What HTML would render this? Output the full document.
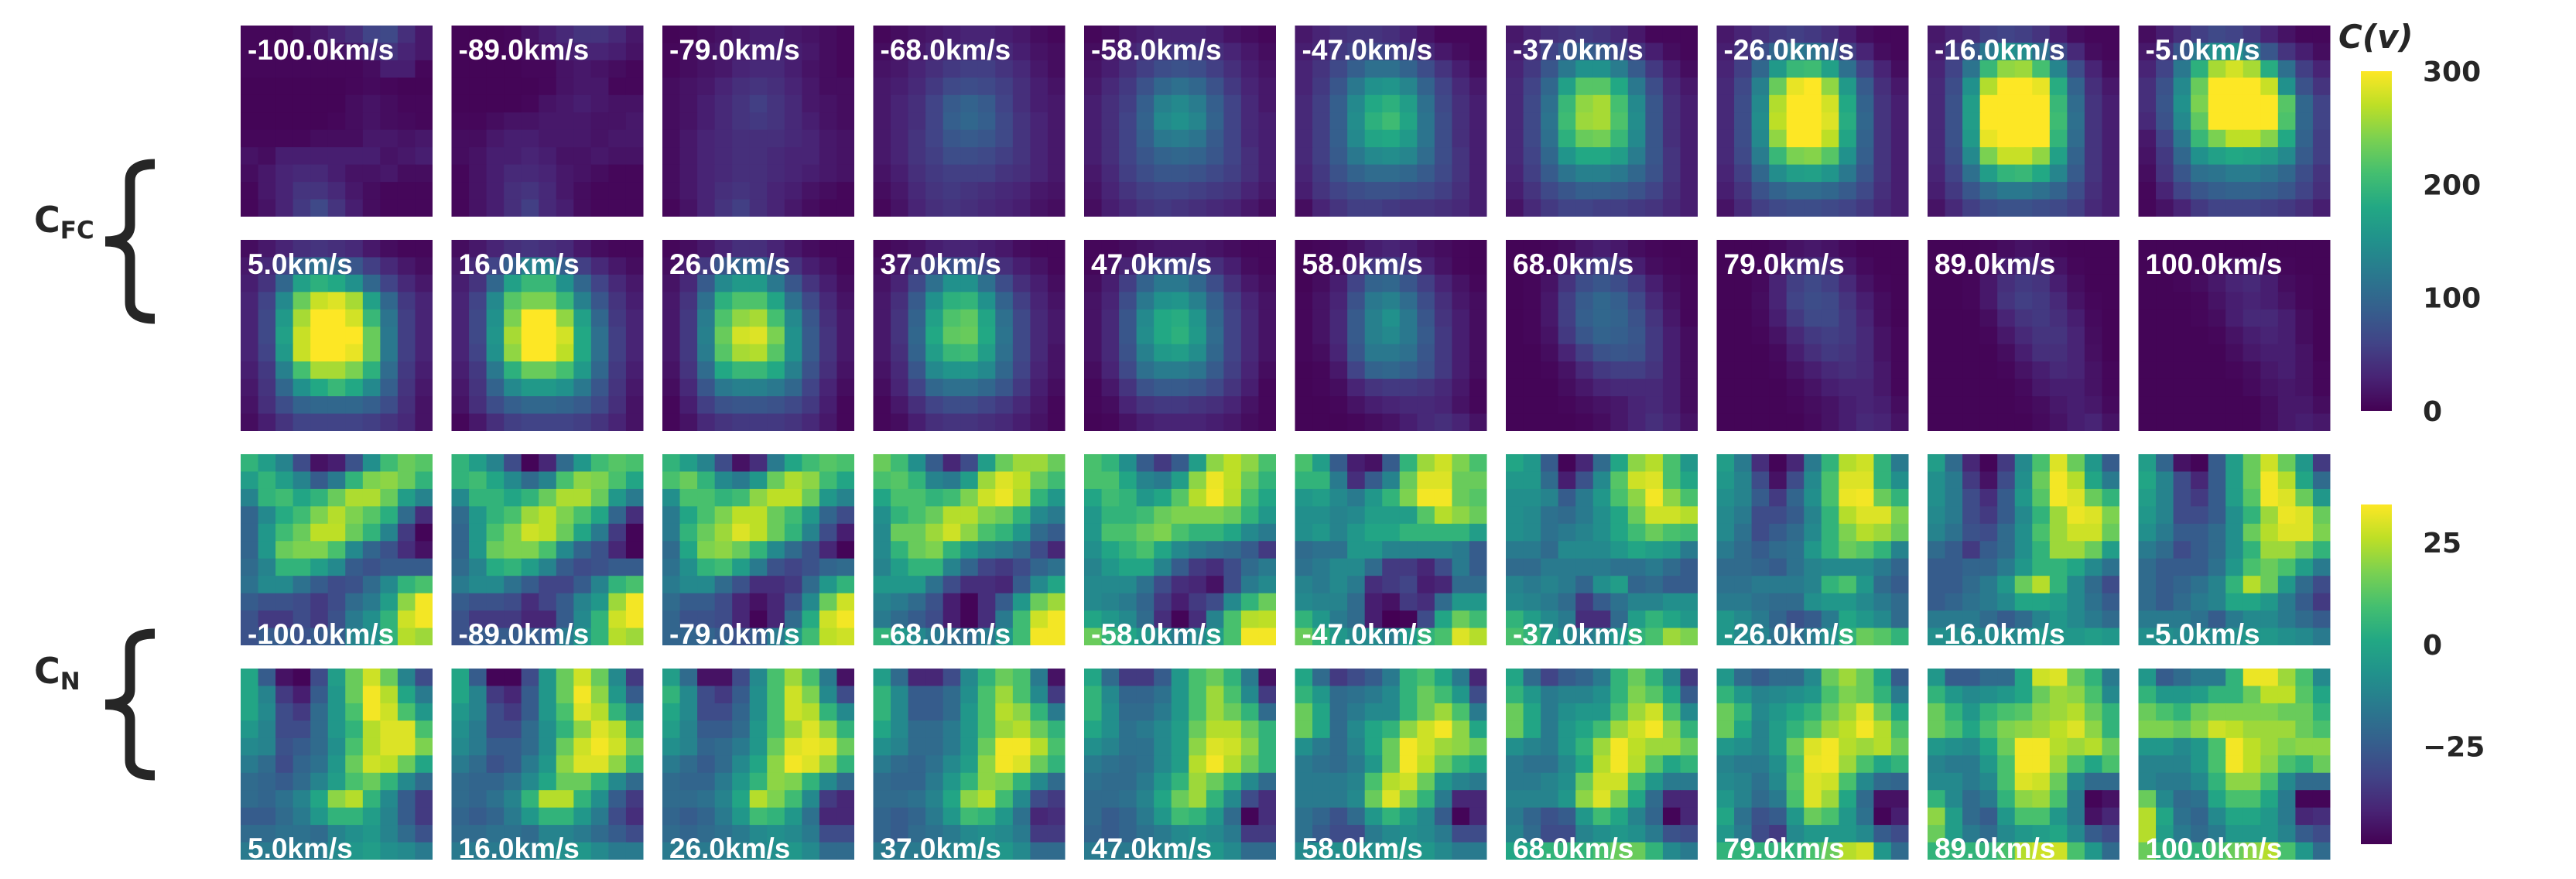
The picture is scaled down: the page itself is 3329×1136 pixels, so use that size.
<!DOCTYPE html>
<html><head><meta charset="utf-8"><style>
html,body{margin:0;padding:0;background:#fff;}
svg{display:block;}
</style></head><body>
<svg id="chart" width="3329" height="1136" viewBox="0 0 3329 1136" xmlns="http://www.w3.org/2000/svg">
<defs>
<linearGradient id="vir" x1="0" y1="1" x2="0" y2="0">
<stop offset="0" stop-color="#440154"/><stop offset="0.1" stop-color="#482475"/><stop offset="0.2" stop-color="#414487"/><stop offset="0.3" stop-color="#355f8d"/><stop offset="0.4" stop-color="#2a788e"/><stop offset="0.5" stop-color="#21918c"/><stop offset="0.6" stop-color="#22a884"/><stop offset="0.7" stop-color="#44bf70"/><stop offset="0.8" stop-color="#7ad151"/><stop offset="0.9" stop-color="#bddf26"/><stop offset="1" stop-color="#fde725"/>
</linearGradient>
</defs>
<g id="panels"></g>
<g id="side">
<text x="44" y="300" font-family="DejaVu Sans, sans-serif" font-weight="bold" font-size="46" fill="#262626">C<tspan font-size="31" dy="8">FC</tspan></text>
<text x="44" y="883" font-family="DejaVu Sans, sans-serif" font-weight="bold" font-size="46" fill="#262626">C<tspan font-size="31" dy="8">N</tspan></text>
</g>
<text x="3022" y="62" font-family="DejaVu Sans, sans-serif" font-weight="bold" font-style="italic" font-size="42" fill="#262626">C(v)</text>
<rect x="3051" y="92" width="40" height="439" fill="url(#vir)"/>
<rect x="3051" y="652" width="40" height="439" fill="url(#vir)"/>
<g id="cbticks"></g>
</svg>
<script>
const velocities = ["-100.0","-89.0","-79.0","-68.0","-58.0","-47.0","-37.0","-26.0","-16.0","-5.0","5.0","16.0","26.0","37.0","47.0","58.0","68.0","79.0","89.0","100.0"];
const fcTicks = [0,100,200,300];
const nTicks = [-25,0,25];
const fcRange = [0,300];
const nRange = [-49,34.3];
const fcGrids = [
[[5,5,5,10,20,30,40,60,65,40,20],[5,5,5,5,10,15,20,35,45,30,20],[5,5,5,5,5,5,5,10,25,25,5],[3,3,3,3,3,3,5,8,5,3,3],[3,3,3,3,3,3,10,15,10,5,5],[3,3,3,3,3,5,10,15,10,8,5],[5,5,5,5,10,10,10,20,20,15,20],[15,10,25,25,25,25,25,25,15,20,25],[10,20,30,35,35,25,15,15,20,10,10],[5,20,30,45,45,35,20,10,5,5,5],[5,15,30,50,65,45,25,10,5,5,5]],
[[3,3,3,5,15,25,35,45,45,35,20],[3,3,3,5,10,15,25,30,30,25,15],[3,3,3,3,5,5,15,20,15,10,5],[3,3,3,3,3,5,15,20,20,5,5],[3,3,3,3,5,15,20,25,20,15,15],[5,5,10,15,15,20,20,20,15,15,20],[10,10,20,25,25,20,20,20,15,20,20],[10,15,25,25,30,25,15,15,20,15,15],[5,15,25,35,35,30,20,15,10,5,5],[5,15,25,40,45,35,20,10,5,5,5],[5,15,25,40,55,35,25,10,5,5,5]],
[[3,5,10,15,20,25,25,20,15,10,5],[5,10,15,20,25,30,30,25,20,10,5],[5,10,15,20,30,35,35,25,15,10,5],[10,15,20,30,40,45,40,30,20,10,10],[10,15,25,35,45,55,45,35,20,15,10],[10,15,25,35,45,50,45,35,25,15,10],[10,20,30,35,40,40,40,35,30,20,15],[10,20,30,35,40,40,35,30,30,20,15],[10,20,30,35,40,40,35,30,25,20,15],[10,20,30,40,45,40,30,25,15,10,5],[5,15,30,45,55,40,30,20,10,5,5]],
[[5,10,15,20,25,30,30,25,20,10,5],[10,15,20,30,35,40,40,35,25,15,10],[15,20,30,40,50,55,55,45,35,20,10],[20,25,35,50,65,70,65,55,40,25,15],[20,30,40,60,85,95,85,60,40,25,20],[20,30,40,60,90,100,90,65,45,30,20],[20,30,45,60,80,85,80,65,45,30,20],[20,30,45,55,70,70,65,55,45,30,20],[15,25,40,50,55,55,55,45,40,30,20],[10,20,35,45,50,45,40,35,30,20,15],[5,15,30,40,45,40,35,30,25,15,10]],
[[5,10,20,25,30,30,30,25,15,10,5],[10,20,30,40,45,50,45,40,30,20,10],[15,25,40,55,70,75,70,55,40,25,15],[20,35,50,75,100,110,100,75,50,30,20],[25,40,55,90,130,140,125,90,60,35,20],[25,40,60,95,140,150,135,95,60,35,25],[25,40,60,90,120,125,115,85,60,35,25],[25,40,60,80,95,100,95,80,60,40,25],[20,35,55,70,80,80,75,65,55,40,25],[15,30,45,55,60,60,55,50,45,30,20],[10,25,35,45,50,45,40,35,30,20,10]],
[[20,30,40,45,45,40,30,15,5,5,5],[25,35,50,60,65,60,50,35,20,10,5],[30,45,65,90,110,110,95,70,45,25,10],[30,50,80,120,150,155,135,95,60,35,20],[35,55,90,140,180,190,165,110,65,40,25],[35,55,90,145,190,205,175,115,70,40,25],[35,55,90,140,175,180,160,115,70,40,25],[35,55,85,120,140,145,135,105,70,45,25],[30,50,75,95,105,105,100,85,65,45,25],[25,45,60,70,75,75,70,65,55,40,25],[10,30,45,55,55,50,45,45,40,35,25]],
[[20,30,40,45,50,45,35,20,5,5,5],[25,40,60,80,90,85,65,45,25,10,5],[30,50,80,120,150,150,125,85,50,25,10],[35,60,100,170,220,220,180,120,70,35,20],[35,65,110,200,250,260,210,140,80,40,25],[35,65,115,205,255,260,215,145,80,40,25],[35,65,110,190,230,235,200,140,80,40,25],[35,60,100,155,180,180,165,125,80,45,25],[30,55,85,115,130,130,120,100,75,45,25],[25,45,65,80,90,90,85,75,60,40,25],[15,35,50,60,60,55,55,50,45,35,25]],
[[20,30,40,50,55,50,40,25,10,5,5],[25,45,70,100,120,115,90,55,30,10,5],[30,55,100,160,200,205,170,110,60,30,10],[35,65,130,230,290,300,250,160,85,40,20],[35,70,140,265,310,320,280,180,95,45,25],[35,70,145,270,315,320,285,185,100,45,25],[35,70,140,250,300,305,270,175,95,45,25],[35,65,125,200,240,245,220,150,90,45,25],[30,55,100,145,165,170,155,120,80,45,25],[25,45,75,95,105,105,100,85,65,40,25],[15,35,55,65,70,70,65,60,50,35,25]],
[[20,30,40,55,60,55,45,25,10,5,5],[25,50,80,120,150,145,110,65,35,10,5],[30,60,115,200,250,255,210,135,70,30,10],[35,70,150,265,320,320,290,185,95,40,20],[35,75,165,300,330,330,310,200,105,45,25],[35,75,165,305,330,330,310,205,110,45,25],[35,75,160,290,320,320,300,195,105,45,25],[35,70,140,240,275,275,250,170,95,45,25],[30,60,110,165,195,200,180,135,85,45,25],[25,50,80,105,120,120,110,95,70,40,25],[15,35,55,70,75,75,70,65,55,35,25]],
[[10,25,40,55,65,60,50,30,15,5,5],[20,45,80,120,150,150,120,80,45,25,10],[30,60,120,190,260,280,260,185,110,55,30],[40,75,140,230,330,330,330,275,150,75,45],[40,80,150,240,330,330,330,330,220,100,60],[35,75,140,225,330,330,330,330,215,100,60],[20,60,120,200,240,270,270,245,180,95,55],[15,50,100,150,170,180,175,165,140,85,55],[10,45,80,110,115,125,125,115,100,70,45],[5,30,60,80,90,95,95,90,80,60,40],[5,15,30,50,60,60,60,55,50,40,25]],
[[10,20,30,40,45,40,35,20,10,5,5],[20,35,60,90,110,100,80,55,35,20,10],[25,45,100,170,190,180,150,100,60,35,20],[30,60,140,230,275,285,260,170,100,50,30],[30,65,160,260,320,320,280,200,115,55,30],[30,65,170,275,330,330,330,230,120,55,30],[30,60,160,275,330,330,290,230,120,55,30],[25,50,130,210,260,260,240,190,105,50,25],[20,45,100,150,180,200,180,140,90,45,20],[15,40,70,95,100,100,100,90,70,40,15],[10,25,45,60,60,60,60,55,45,35,15]],
[[10,20,30,40,45,40,35,20,10,5,5],[20,35,60,90,130,130,90,55,35,20,10],[25,45,100,170,200,200,150,100,60,35,20],[30,60,140,220,240,240,200,130,80,45,25],[30,65,150,240,310,310,250,170,100,50,30],[30,65,155,260,320,320,280,180,110,55,30],[30,60,150,250,320,320,270,180,110,55,30],[25,50,120,190,230,230,210,160,100,50,25],[20,45,95,140,160,160,150,120,80,45,20],[15,40,70,90,100,100,95,85,65,40,15],[5,20,40,55,60,60,60,55,45,30,15]],
[[5,10,20,30,40,40,30,20,10,5,5],[10,25,50,80,95,95,70,45,25,15,5],[15,35,85,140,160,160,120,80,45,25,10],[20,45,110,190,215,215,175,110,65,35,15],[20,50,125,215,250,260,210,140,80,40,20],[20,50,130,230,280,285,240,150,85,45,20],[20,50,125,220,260,265,220,150,85,45,20],[15,45,105,180,200,200,180,130,75,40,15],[10,35,80,120,130,130,120,100,60,30,10],[5,25,55,75,80,80,75,65,50,25,5],[5,15,35,45,50,50,50,45,35,20,5]],
[[5,10,15,25,30,30,25,20,10,5,5],[10,20,40,60,75,75,60,40,25,15,5],[15,30,65,110,150,150,110,70,40,25,10],[20,40,85,150,190,195,150,95,55,30,15],[20,45,95,170,215,225,175,110,65,35,20],[20,45,100,180,225,230,180,115,65,35,20],[20,40,95,165,200,205,165,110,65,35,15],[15,35,80,140,155,155,140,100,60,30,15],[10,30,60,100,110,110,100,80,50,25,10],[5,20,40,60,70,70,60,50,35,20,5],[5,10,25,40,45,45,40,35,25,15,5]],
[[5,5,10,15,20,20,20,15,10,5,5],[5,15,30,50,60,60,55,40,25,10,5],[10,25,55,95,120,120,100,70,40,20,10],[15,30,70,120,150,155,130,90,55,30,15],[15,35,80,140,180,185,155,100,60,35,15],[15,35,80,145,180,190,160,105,60,35,15],[15,35,75,130,160,165,145,100,60,35,15],[10,30,65,110,125,125,115,85,55,30,10],[5,20,45,75,85,85,80,65,45,25,5],[5,10,30,45,50,50,45,40,30,15,5],[3,5,15,25,30,30,30,25,20,10,5]],
[[3,5,8,15,25,30,25,15,10,5,3],[3,5,10,30,50,55,45,30,15,5,3],[3,10,25,60,95,100,80,55,30,15,5],[5,15,30,75,120,130,105,70,40,20,10],[5,15,35,85,130,150,120,80,45,25,10],[5,15,35,85,130,140,120,85,50,25,10],[5,10,30,80,120,120,110,80,50,25,10],[3,5,20,60,95,100,90,75,50,25,10],[3,5,10,30,45,50,50,45,35,20,5],[3,3,5,15,25,30,35,35,30,15,5],[3,3,3,5,10,15,25,35,40,30,15]],
[[3,3,5,10,20,25,20,10,5,3,3],[3,3,8,25,45,55,45,25,10,5,3],[3,5,15,45,70,80,70,50,25,10,5],[3,5,20,55,85,100,90,65,35,15,5],[3,5,20,55,90,100,95,75,45,20,5],[3,5,15,50,80,95,90,80,50,25,10],[3,3,10,30,55,75,80,75,50,25,10],[3,3,5,15,35,50,55,55,45,25,10],[3,3,3,10,20,30,35,35,35,25,10],[3,3,3,5,10,15,20,30,35,25,10],[3,3,3,3,5,10,20,30,40,30,15]],
[[3,3,3,8,15,20,15,8,3,3,3],[3,3,5,15,35,40,35,20,8,3,3],[3,3,8,30,55,65,55,35,15,5,3],[3,3,10,30,60,70,65,45,25,10,3],[3,3,8,25,50,65,65,50,30,10,3],[3,3,5,15,35,50,55,50,35,15,5],[3,3,3,8,25,40,50,45,35,15,5],[3,3,3,5,15,25,35,40,35,20,5],[3,3,3,3,8,15,25,30,30,20,5],[3,3,3,3,5,10,15,25,30,25,10],[3,3,3,3,3,8,15,25,35,30,15]],
[[3,3,3,5,10,15,12,5,3,3,3],[3,3,3,10,25,35,30,15,5,3,3],[3,3,5,20,40,50,45,25,10,3,3],[3,3,5,20,45,55,50,35,15,5,3],[3,3,3,10,30,45,50,40,25,8,3],[3,3,3,5,20,35,45,45,30,10,3],[3,3,3,3,10,25,40,40,30,12,3],[3,3,3,3,5,15,25,35,30,15,5],[3,3,3,3,3,8,20,25,25,15,5],[3,3,3,3,3,5,10,20,25,20,8],[3,3,3,3,3,3,8,15,25,30,15]],
[[3,3,3,3,3,3,3,3,3,3,3],[3,3,3,5,10,15,15,10,5,3,3],[3,3,5,10,20,30,35,25,10,5,3],[3,3,3,5,15,25,30,25,15,5,3],[3,3,3,5,10,25,35,35,25,10,3],[3,3,3,3,5,15,25,30,25,10,3],[3,3,3,3,3,10,20,25,25,15,3],[3,3,3,3,3,5,10,20,25,15,5],[3,3,3,3,3,3,8,15,20,15,5],[3,3,3,3,3,3,3,10,20,20,10],[3,3,3,3,3,3,3,10,20,25,20]]
];
const nGrids = [
[[5,-3,-12,-30,-45,-42,-28,-8,8,15,12],[-3,5,-3,-12,-25,-15,5,18,20,15,5],[-12,5,8,0,5,15,24,24,15,-3,-12],[-22,-10,2,8,18,25,18,12,3,-20,-38],[-22,-5,8,15,26,26,15,5,-12,-35,-48],[-22,-5,15,18,18,10,-10,-22,-28,-38,-45],[-20,-12,5,5,-3,-10,-25,-28,-25,-25,-25],[-18,-10,-10,-18,-25,-30,-28,-20,-10,5,10],[-25,-28,-28,-30,-35,-30,-20,-15,-3,20,33],[-28,-35,-35,-30,-35,-28,-15,-8,5,28,33],[-28,-25,-25,-28,-25,-25,-12,-8,5,25,22]],
[[5,-3,-12,-30,-48,-40,-20,-5,8,12,10],[5,8,0,-10,-20,-12,10,20,18,10,0],[-10,5,5,0,5,15,24,24,15,-5,-15],[-20,-5,5,10,22,26,18,10,0,-22,-38],[-22,-5,10,18,28,26,15,0,-15,-35,-48],[-22,-5,15,18,18,10,-10,-22,-28,-40,-48],[-20,-12,2,5,-3,-12,-25,-30,-28,-25,-25],[-15,-10,-10,-18,-25,-32,-32,-25,-12,5,10],[-25,-28,-28,-30,-38,-32,-25,-12,-5,22,33],[-28,-35,-35,-35,-40,-40,-25,-10,5,28,33],[-28,-25,-25,-25,-25,-25,-15,-5,5,25,22]],
[[5,-3,-12,-30,-45,-38,-15,0,8,12,10],[10,15,5,-10,-15,-5,15,24,20,8,0],[-8,10,10,5,8,20,26,26,15,-5,-12],[-15,0,10,18,26,26,15,8,-5,-22,-30],[-15,5,15,22,30,26,15,5,-12,-30,-42],[-20,0,18,20,15,5,-10,-20,-28,-40,-48],[-18,-8,5,8,-3,-15,-28,-32,-28,-22,-20],[-15,-10,-10,-20,-28,-38,-38,-35,-20,-5,5],[-20,-25,-25,-30,-40,-45,-40,-28,-10,15,28],[-22,-28,-28,-30,-40,-48,-40,-20,2,28,33],[-22,-22,-22,-25,-28,-25,-15,-5,8,26,28]],
[[15,8,-8,-25,-40,-30,-3,15,22,22,15],[10,12,5,-12,-15,-3,22,30,26,15,8],[0,10,10,5,8,18,28,32,24,5,-5],[-8,5,10,15,25,25,18,15,5,-10,-15],[-10,15,15,22,28,20,10,5,-5,-20,-25],[-10,5,15,18,5,-5,-12,-15,-20,-30,-40],[-12,-3,5,5,-12,-22,-32,-35,-30,-22,-18],[-5,-5,-5,-18,-30,-38,-38,-40,-25,-10,0],[-12,-15,-20,-28,-42,-48,-38,-25,-5,15,22],[-15,-20,-25,-30,-42,-48,-38,-15,8,28,33],[5,-5,-10,-15,-20,-20,-15,-5,8,33,33]],
[[10,5,-8,-25,-35,-25,-3,20,26,20,10],[10,10,0,-12,-15,-3,20,32,26,15,5],[0,8,5,-5,0,12,25,33,25,10,0],[-5,5,5,8,15,18,18,18,15,5,-5],[-5,10,10,15,18,10,5,5,0,-10,-15],[-8,0,5,10,0,-10,-15,-18,-20,-25,-35],[-12,-5,0,0,-12,-25,-35,-38,-30,-20,-15],[-10,-10,-10,-18,-30,-38,-40,-45,-30,-15,-10],[-10,-12,-15,-22,-35,-42,-35,-30,-10,5,15],[0,-5,-10,-20,-38,-48,-38,-12,10,25,26],[15,5,0,-5,-10,-15,-10,-3,10,33,33]],
[[10,-3,-25,-42,-45,-25,5,22,28,18,10],[5,5,-15,-38,-25,-12,15,30,30,15,15],[-5,-3,-10,-15,-5,5,18,33,33,15,12],[-8,-8,-12,-10,-3,-3,-3,12,25,20,15],[-8,-5,-12,-5,0,0,5,5,5,5,-3],[-20,-18,-18,-5,-5,-12,-12,-12,-12,-15,-25],[-18,-15,-10,-10,-20,-35,-35,-40,-30,-15,-25],[-12,-15,-10,-15,-38,-35,-32,-42,-40,-20,-20],[-10,-12,-12,-20,-42,-45,-35,-38,-20,-5,-5],[5,-5,-15,-20,-42,-50,-48,-30,0,15,8],[15,5,-5,-10,-10,-15,-5,5,10,30,25]],
[[0,-5,-25,-48,-40,-20,0,20,25,10,-5],[-5,-5,-20,-42,-28,-10,12,28,30,10,0],[-8,-8,-12,-25,-15,-5,10,20,33,20,10],[-8,-10,-18,-20,-15,-8,0,15,28,28,25],[-8,-10,-18,-15,-12,-8,0,8,15,10,8],[-15,-15,-20,-10,-10,-10,-5,0,-3,-5,-15],[-20,-20,-15,-15,-15,-15,-18,-18,-15,-20,-25],[-12,-15,-12,-15,-22,-8,-3,-22,-20,-25,-25],[-10,-12,-15,-20,-35,-25,-18,-12,-12,-8,-8],[5,-3,-10,-15,-38,-38,-20,-3,5,0,-5],[10,5,-5,-10,-15,-12,-5,5,10,22,18]],
[[-3,-15,-38,-48,-40,-15,5,25,28,5,-15],[-5,-12,-30,-45,-30,-10,10,30,30,5,-8],[-8,-12,-25,-35,-22,-8,10,32,33,15,5],[-10,-15,-30,-30,-25,-12,5,25,30,30,18],[-10,-18,-30,-25,-20,-10,5,18,25,22,15],[-15,-20,-25,-20,-18,-5,5,15,12,5,-12],[-20,-20,-22,-25,-18,-12,-10,-10,-10,-15,-22],[-18,-18,-15,-15,-15,-12,5,10,-5,-20,-25],[-15,-15,-18,-20,-20,-8,-5,-5,-10,-15,-20],[-5,-10,-15,-22,-28,-25,-15,0,-5,-10,-20],[-5,-10,-12,-18,-20,-15,-8,5,15,12,5]],
[[-3,-20,-40,-48,-35,-10,10,30,15,-5,-25],[-8,-15,-35,-45,-30,-8,15,33,25,0,-15],[-8,-15,-30,-38,-25,-5,12,33,30,15,5],[-10,-15,-30,-35,-25,-10,5,22,32,30,18],[-12,-18,-28,-30,-20,-8,10,22,28,28,15],[-20,-25,-35,-25,-20,-8,5,22,22,15,-3],[-25,-25,-22,-22,-15,-5,5,5,0,-10,-18],[-25,-25,-20,-15,-5,15,25,5,-10,-20,-30],[-25,-22,-18,-15,-10,0,0,-3,-10,-18,-25],[-15,-15,-15,-20,-25,-20,-12,-5,-10,-15,-20],[-8,-8,-10,-10,-10,-10,-5,-5,-5,-3,-5]],
[[-3,-22,-45,-48,-25,-3,15,28,15,-5,-35],[0,-12,-30,-40,-25,-3,15,33,25,0,-20],[-3,-12,-30,-35,-25,-3,12,33,30,15,-5],[-5,-12,-30,-30,-25,-8,5,22,32,30,15],[-8,-15,-25,-25,-20,-8,15,25,30,30,18],[-15,-20,-30,-25,-20,-8,5,22,22,15,5],[-20,-25,-25,-25,-18,-5,10,15,10,-3,-15],[-20,-25,-22,-18,-12,5,25,15,-5,-20,-30],[-20,-25,-20,-15,-12,0,0,-5,-15,-25,-35],[-15,-15,-15,-18,-25,-15,-10,-10,-15,-20,-25],[-8,-8,-10,-10,-10,-8,-5,-5,-8,-10,-15]],
[[0,-25,-45,-48,-30,-3,15,28,15,-12,-30],[0,-12,-35,-42,-25,-5,15,33,25,0,-15],[0,-10,-30,-35,-20,-5,10,33,28,10,-5],[-5,-12,-30,-30,-20,-5,5,25,30,30,10],[-10,-12,-28,-25,-20,-8,10,25,30,30,18],[-15,-20,-30,-22,-18,-5,15,28,26,15,0],[-20,-22,-25,-20,-12,-3,10,15,5,-10,-20],[-20,-22,-18,-12,0,20,25,5,-10,-25,-35],[-25,-25,-20,-15,-5,5,5,-3,-12,-25,-35],[-20,-20,-18,-18,-20,-12,-8,-5,-12,-20,-28],[-15,-15,-15,-15,-15,-10,-5,-3,-8,-10,-15]],
[[0,-25,-48,-48,-30,-5,15,28,15,-10,-35],[0,-12,-35,-40,-25,-5,15,33,20,-5,-25],[-5,-12,-30,-35,-25,-5,10,30,25,5,-10],[-8,-15,-30,-30,-20,-8,5,20,30,25,5],[-10,-15,-25,-25,-20,-8,15,28,33,28,15],[-15,-20,-28,-25,-15,-5,20,30,30,20,5],[-20,-22,-22,-18,-10,0,15,15,5,-10,-20],[-20,-22,-18,-12,5,25,25,5,-8,-25,-35],[-22,-25,-22,-15,-5,5,5,-5,-15,-30,-38],[-20,-20,-18,-18,-20,-12,-12,-15,-20,-25,-30],[-15,-15,-15,-15,-15,-10,-8,-5,-10,-15,-15]],
[[-3,-20,-45,-45,-30,-10,10,22,10,-15,-45],[5,-10,-30,-35,-25,-8,10,28,18,-10,-30],[0,-10,-30,-30,-22,-8,10,28,25,5,-10],[-3,-12,-25,-25,-20,-5,10,22,30,20,5],[-8,-12,-22,-20,-15,-5,15,30,32,30,15],[-15,-20,-25,-20,-10,0,20,33,30,20,5],[-20,-22,-22,-15,-5,5,20,18,5,-10,-20],[-20,-20,-18,-12,0,25,18,8,-10,-35,-40],[-22,-25,-22,-15,-5,8,5,-5,-18,-40,-40],[-20,-22,-20,-18,-15,-10,-8,-10,-15,-30,-30],[-15,-15,-15,-15,-12,-10,-8,-5,-10,-20,-20]],
[[-3,-20,-40,-40,-30,-10,5,15,10,-15,-45],[5,-10,-25,-25,-20,-8,10,22,10,-10,-35],[5,-10,-25,-25,-20,-5,10,25,20,5,-15],[0,-10,-20,-20,-15,-5,10,22,25,15,5],[-8,-12,-20,-20,-15,-5,15,33,33,25,10],[-15,-20,-22,-18,-10,-3,20,33,30,15,5],[-20,-22,-22,-15,-5,5,20,18,5,-10,-20],[-20,-20,-18,-12,0,20,25,8,-10,-30,-35],[-22,-25,-22,-15,-5,8,5,-5,-18,-40,-38],[-22,-25,-20,-18,-15,-10,-8,-10,-15,-35,-35],[-15,-15,-15,-15,-12,-10,-8,-5,-10,-20,-20]],
[[0,-20,-35,-35,-25,-5,10,15,5,-15,-45],[5,-10,-22,-22,-18,-5,10,22,10,-10,-35],[5,-8,-20,-20,-15,-5,10,22,15,5,-20],[0,-8,-18,-15,-10,-3,15,25,25,15,5],[-8,-12,-18,-18,-10,-3,20,30,28,20,5],[-15,-18,-20,-18,-10,-3,25,33,25,15,5],[-18,-20,-20,-15,-5,5,22,15,5,-10,-20],[-20,-20,-18,-12,0,15,22,5,-10,-30,-38],[-20,-25,-22,-15,-5,8,5,-5,-20,-48,-38],[-22,-25,-22,-18,-15,-10,-8,-10,-15,-35,-35],[-15,-15,-15,-15,-12,-10,-8,-5,-10,-20,-20]],
[[0,-20,-35,-30,-25,-15,5,10,0,-15,-40],[5,-5,-20,-18,-15,-10,5,15,8,-5,-30],[15,0,-20,-15,-10,-10,5,15,22,10,-15],[15,0,-20,-10,0,5,20,28,33,20,0],[-8,-15,-20,-12,0,15,33,28,22,20,15],[-15,-18,-20,-15,-5,15,33,26,15,5,0],[-15,-15,-15,-12,10,25,28,15,-5,-12,-15],[-15,-15,-15,-10,15,30,18,5,-15,-40,-40],[-18,-22,-28,-20,-5,5,-3,-10,-25,-48,-40],[-18,-25,-30,-30,-15,-10,-8,-10,-15,-30,-30],[-10,-8,-8,-8,-8,-5,-5,-5,-10,-15,-15]],
[[0,-20,-32,-25,-22,-15,5,15,5,-10,-35],[5,-5,-15,-12,-12,-8,5,18,12,0,-25],[15,0,-15,-8,-5,-5,10,22,28,10,-10],[15,0,-15,-5,0,8,22,28,33,20,5],[-8,-12,-15,-5,5,22,33,26,22,22,15],[-15,-18,-18,-10,0,25,33,25,12,0,5],[-15,-15,-12,-8,15,28,28,10,-5,-15,-15],[-12,-12,-12,-5,20,30,18,0,-20,-40,-40],[-15,-22,-28,-25,-5,8,0,-12,-22,-48,-40],[-12,-20,-30,-30,-12,-8,-5,-8,-15,-28,-30],[0,0,5,5,5,10,15,15,5,-10,-15]],
[[-5,-20,-25,-20,-20,-10,15,22,15,0,-25],[5,-5,-12,-10,-8,-5,10,18,15,5,-15],[15,5,-10,-5,0,5,15,22,30,15,0],[15,0,-12,-3,5,12,22,26,33,25,10],[-5,-8,-12,-3,15,30,33,25,22,25,15],[-12,-15,-15,-8,10,32,33,22,10,0,5],[-10,-12,-18,-10,12,30,28,10,-10,-20,-22],[-5,-12,-20,-15,10,30,22,0,-20,-45,-45],[0,-18,-28,-25,-5,15,10,-5,-18,-48,-42],[-5,-15,-30,-35,-10,-5,-5,-5,-10,-25,-30],[5,5,5,5,5,10,15,25,28,-5,-20]],
[[-5,-25,-25,-20,-20,0,28,30,15,5,-15],[5,-5,-10,-8,-5,0,15,22,20,10,-10],[15,5,-5,5,10,12,20,22,25,15,5],[15,10,0,10,18,20,22,26,30,20,5],[-5,-8,-10,0,15,33,33,25,22,25,15],[-12,-15,-15,-5,10,33,33,22,10,0,10],[-10,-10,-15,-10,10,30,28,15,-10,-20,-20],[5,-10,-20,-15,5,20,22,10,-15,-48,-45],[20,-3,-20,-25,-5,10,10,-5,-15,-45,-40],[15,-3,-15,-20,-10,-5,-3,0,-10,-25,-30],[5,5,5,5,10,25,28,28,10,-5,-20]],
[[-5,-25,-20,-15,-15,5,32,32,22,10,-10],[5,-5,-5,-3,5,5,15,26,26,12,0],[15,10,5,15,18,18,18,18,15,15,5],[18,18,15,20,28,26,22,22,22,15,10],[-5,-5,-10,-5,10,33,26,22,18,20,20],[-12,-12,-12,-5,10,33,26,20,10,5,15],[-12,-15,-15,-10,5,20,20,10,-10,-20,-20],[15,-10,-20,-18,0,10,10,0,-15,-48,-48],[25,0,-18,-22,-10,0,0,-5,-15,-40,-38],[25,-3,-15,-20,-15,-5,-5,-5,-12,-25,-30],[15,5,5,5,10,15,20,25,10,-5,-20]]
];

const VIR = ["#440154","#482475","#414487","#355f8d","#2a788e","#21918c","#22a884","#44bf70","#7ad151","#bddf26","#fde725"];
function hex(h){return [parseInt(h.substr(1,2),16),parseInt(h.substr(3,2),16),parseInt(h.substr(5,2),16)];}
function viridis(t){
  t=Math.max(0,Math.min(1,t));
  const p=t*10, i=Math.min(9,Math.floor(p)), f=p-i;
  const a=hex(VIR[i]), b=hex(VIR[i+1]);
  return "rgb("+a.map((v,k)=>Math.round(v+(b[k]-v)*f)).join(",")+")";
}
const NS="http://www.w3.org/2000/svg";
const PX0=311, PSTEP=272.5, PW=248, PH=247;
const ROWY=[33,310,587,864];
function panelX(i){return PX0+i*PSTEP;}
function norm(v,range){return (v-range[0])/(range[1]-range[0]);}
const panelsG=document.getElementById('panels');
function drawPanel(grid,range,col,row,label,labelBottom,kind){
  const g=document.createElementNS(NS,'g');
  
  
  const x0=panelX(col), y0=ROWY[row];
  const nr=grid.length, nc=grid[0].length;
  const cw=PW/nc, ch=PH/nr;
  for(let r=0;r<nr;r++){for(let c=0;c<nc;c++){
    const rc=document.createElementNS(NS,'rect');
    
    
    rc.setAttribute('x',(x0+c*cw).toFixed(2));
    rc.setAttribute('y',(y0+r*ch).toFixed(2));
    rc.setAttribute('width',(c==nc-1?cw:cw+0.6).toFixed(2));
    rc.setAttribute('height',(r==nr-1?ch:ch+0.6).toFixed(2));
    rc.setAttribute('fill',viridis(norm(grid[r][c],range)));
    g.appendChild(rc);
  }}
  const t=document.createElementNS(NS,'text');
  
  
  t.setAttribute('x',x0+9);
  t.setAttribute('y',labelBottom? y0+PH-2 : y0+44);
  t.setAttribute('font-family','Liberation Sans, Arial, sans-serif');
  t.setAttribute('font-weight','bold');
  t.setAttribute('font-size','37');
  t.setAttribute('fill','#ffffff');
  t.textContent=label+'km/s';
  g.appendChild(t);
  panelsG.appendChild(g);
}
for(let i=0;i<20;i++){
  drawPanel(fcGrids[i],fcRange,i%10,Math.floor(i/10),velocities[i],false,'fc');
  drawPanel(nGrids[i],nRange,i%10,2+Math.floor(i/10),velocities[i],true,'n');
}
const tg=document.getElementById('cbticks');
function cbTicks(ticks,range,top,h,prefix){
  ticks.forEach(v=>{
    const y=top+h*(1-norm(v,range));
    const t=document.createElementNS(NS,'text');
    
    
    t.setAttribute('x',3131);t.setAttribute('y',y+13);
    t.setAttribute('font-family','DejaVu Sans, sans-serif');
    t.setAttribute('font-weight','bold');t.setAttribute('font-size','36');
    t.setAttribute('fill','#262626');
    t.textContent=(v<0?'\u2212'+Math.abs(v):String(v));
    tg.appendChild(t);
  });
}
cbTicks(fcTicks,fcRange,92,439,'fc');
cbTicks(nTicks,nRange,652,439,'n');
const side=document.getElementById('side');
function brace(x0,x1,y0,y1,name){
  const xm=(x0+x1)/2, ym=(y0+y1)/2, h=y1-y0;
  const p=document.createElementNS(NS,'path');
  
  
  p.setAttribute('d',`M${x1},${y0+6} Q${xm},${y0+6} ${xm},${y0+h*0.13} L${xm},${ym-h*0.1} Q${xm},${ym} ${x0},${ym} Q${xm},${ym} ${xm},${ym+h*0.1} L${xm},${y1-h*0.13} Q${xm},${y1-6} ${x1},${y1-6}`);
  p.setAttribute('fill','none');p.setAttribute('stroke','#262626');p.setAttribute('stroke-width','13');
  side.appendChild(p);
}
brace(136,200,206,418,'cfc-brace');
brace(136,200,813,1008,'cn-brace');
</script>
</body></html>
